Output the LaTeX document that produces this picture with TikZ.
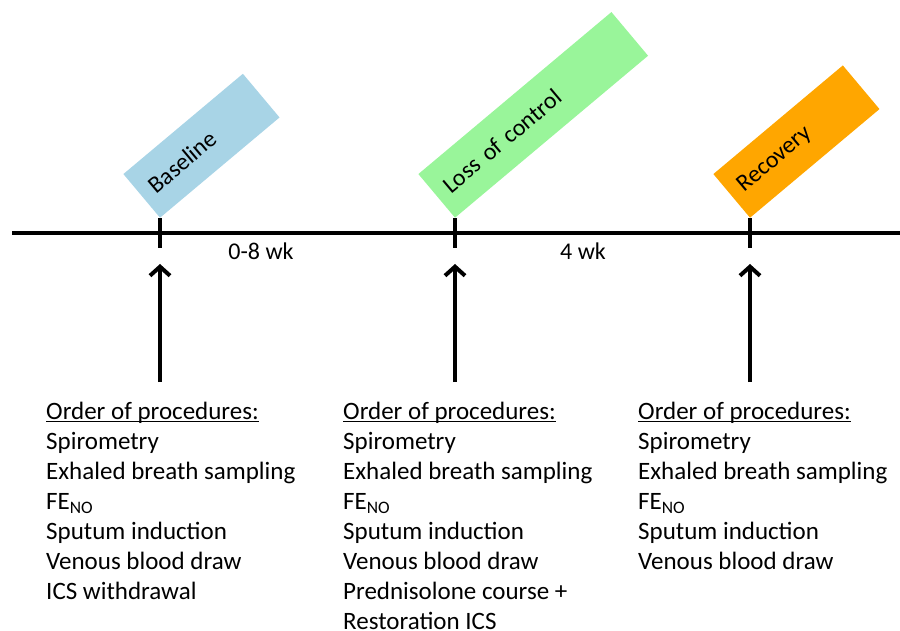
\documentclass[tikz,border=0pt]{standalone}
\usepackage{fontspec}
\setmainfont{Carlito}
\usetikzlibrary{arrows.meta}
\definecolor{cbase}{HTML}{A8D4E6}
\definecolor{closs}{HTML}{99F59A}
\definecolor{crec}{HTML}{FFA600}
\newcommand\myul[1]{\setbox0\hbox{#1}\rlap{\rule[-2.6pt]{\wd0}{1.3pt}}\box0}
\begin{document}
\begin{tikzpicture}[x=1pt,y=-1pt,
  phase/.style={rotate=40, anchor=south west, minimum height=57pt, inner xsep=12pt, inner ysep=0pt, align=left, font=\fontsize{24}{28}\selectfont},
  tline/.style={line width=4pt},
  tickmark/.style={line width=4pt},
  up/.style={line width=4pt, -{Straight Barb[length=9pt,width=20pt]}},
  proc/.style={anchor=north west, align=left, inner sep=0pt, font=\fontsize{25}{30}\selectfont},
  gap/.style={font=\fontsize{24}{28}\selectfont, inner sep=0pt}]
\useasboundingbox (0,0) rectangle (900,631);
% timeline
\coordinate (L0) at (12,233);
\coordinate (L1) at (900,233);
\draw[tline] (L0) -- (L1);
% ticks
\coordinate (t1top) at (160,218); \coordinate (t1bot) at (160,248);
\coordinate (t2top) at (455,218); \coordinate (t2bot) at (455,248);
\coordinate (t3top) at (750,218); \coordinate (t3bot) at (750,248);
\draw[tickmark] (t1top) -- (t1bot);
\draw[tickmark] (t2top) -- (t2bot);
\draw[tickmark] (t3top) -- (t3bot);
% phase boxes
\node[phase, fill=cbase, text width=132pt] (b1) at (t1top) {Baseline};
\node[phase, fill=closs, text width=228pt] (b2) at (t2top) {Loss of control};
\node[phase, fill=crec, text width=145pt] (b3) at (t3top) {Recovery};
% interval labels
\node[gap] (g1) at (261,251) {0-8 wk};
\node[gap] (g2) at (583,251) {4 wk};
% arrows
\coordinate (a1s) at (160,382); \coordinate (a1e) at (160,264);
\coordinate (a2s) at (455,382); \coordinate (a2e) at (455,264);
\coordinate (a3s) at (750,382); \coordinate (a3e) at (750,264);
\draw[up] (a1s) -- (a1e);
\draw[up] (a2s) -- (a2e);
\draw[up] (a3s) -- (a3e);
% procedures
\node[proc] (p1) at (46,402) {\myul{Order of procedures:}\\Spirometry\\Exhaled breath sampling\\FE\textsubscript{NO}\\Sputum induction\\Venous blood draw\\ICS withdrawal};
\node[proc] (p2) at (343,402) {\myul{Order of procedures:}\\Spirometry\\Exhaled breath sampling\\FE\textsubscript{NO}\\Sputum induction\\Venous blood draw\\Prednisolone course +\\Restoration ICS};
\node[proc] (p3) at (638,402) {\myul{Order of procedures:}\\Spirometry\\Exhaled breath sampling\\FE\textsubscript{NO}\\Sputum induction\\Venous blood draw};
\end{tikzpicture}
\end{document}
